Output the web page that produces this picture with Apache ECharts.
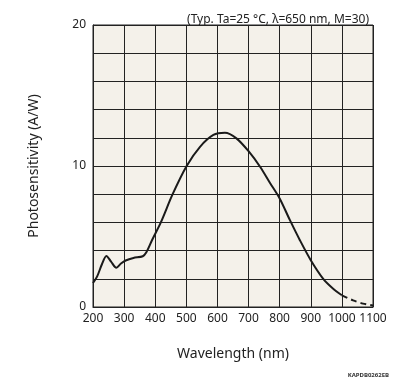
<!DOCTYPE html>
<html><head><meta charset="utf-8">
<script src="https://cdn.jsdelivr.net/npm/echarts@6/dist/echarts.min.js"></script>
<style>html,body{margin:0;padding:0;background:#fff}#c{width:396px;height:380px}</style>
</head><body><div id="c"></div>
<script>
const wavelengthSolid = [200,213,229,243,258,275,290,305,330,360,372,390,418,456,501,544,587,624,661,700,737,769,800,833,865,900,940,972,1000];
const sensitivitySolid = [1.7,2.15,3.05,3.62,3.22,2.78,3.08,3.3,3.48,3.6,3.9,4.75,6.0,8.0,10.0,11.36,12.2,12.36,11.96,11.05,9.95,8.8,7.7,6.16,4.74,3.32,2.0,1.3,0.83];
const wavelengthDashed = [1000,1036,1068,1100];
const sensitivityDashed = [0.83,0.47,0.24,0.1];
const xTicks = [200,300,400,500,600,700,800,900,1000,1100];
const yTickLabels = [0,10,20];
const noteText = '(Typ. Ta=25 °C, λ=650 nm, M=30)';
const codeText = 'KAPDB0262EB';

const font = 'Noto Sans';
const chart = echarts.init(document.getElementById('c'), null, {renderer:'canvas'});
chart.setOption({
  backgroundColor:'#ffffff',
  animation:false,
  title:[
    {text:noteText, right:22, top:9, textStyle:{fontFamily:font, fontSize:12, fontWeight:'normal', color:'#222'}},
    {text:codeText, right:2, top:367, textStyle:{fontFamily:font, fontSize:6, fontWeight:'bold', color:'#333'}}
  ],
  grid:{left:93, right:23, top:25, bottom:73, show:true, backgroundColor:'#f4f1ea', borderColor:'#222', borderWidth:1},
  xAxis:{
    type:'value', min:200, max:1100, interval:100,
    name:'Wavelength (nm)', nameLocation:'middle', nameGap:40,
    nameTextStyle:{fontFamily:font, fontSize:14, color:'#222'},
    axisLine:{show:true, lineStyle:{color:'#222', width:1}},
    axisTick:{show:false},
    axisLabel:{fontFamily:font, fontSize:12, color:'#222', margin:6,
      formatter:v=> xTicks.includes(v) ? String(v) : ''},
    splitLine:{show:true, lineStyle:{color:'#222', width:1}}
  },
  yAxis:{
    type:'value', min:0, max:20, interval:2,
    name:'Photosensitivity (A/W)', nameLocation:'middle', nameGap:52,
    nameTextStyle:{fontFamily:font, fontSize:14, color:'#222'},
    axisLine:{show:true, lineStyle:{color:'#222', width:1}},
    axisTick:{show:false},
    axisLabel:{fontFamily:font, fontSize:12, color:'#222', margin:7,
      formatter:v=> yTickLabels.includes(v) ? String(v) : ''},
    splitLine:{show:true, lineStyle:{color:'#222', width:1}}
  },
  series:[
    {type:'line', data:wavelengthSolid.map((x,i)=>[x,sensitivitySolid[i]]), smooth:0.3, showSymbol:false,
      lineStyle:{color:'#1a1a1a', width:2}},
    {type:'line', data:wavelengthDashed.map((x,i)=>[x,sensitivityDashed[i]]), smooth:0.3, showSymbol:false,
      lineStyle:{color:'#1a1a1a', width:2, type:[6,4]}}
  ]
});
</script></body></html>
